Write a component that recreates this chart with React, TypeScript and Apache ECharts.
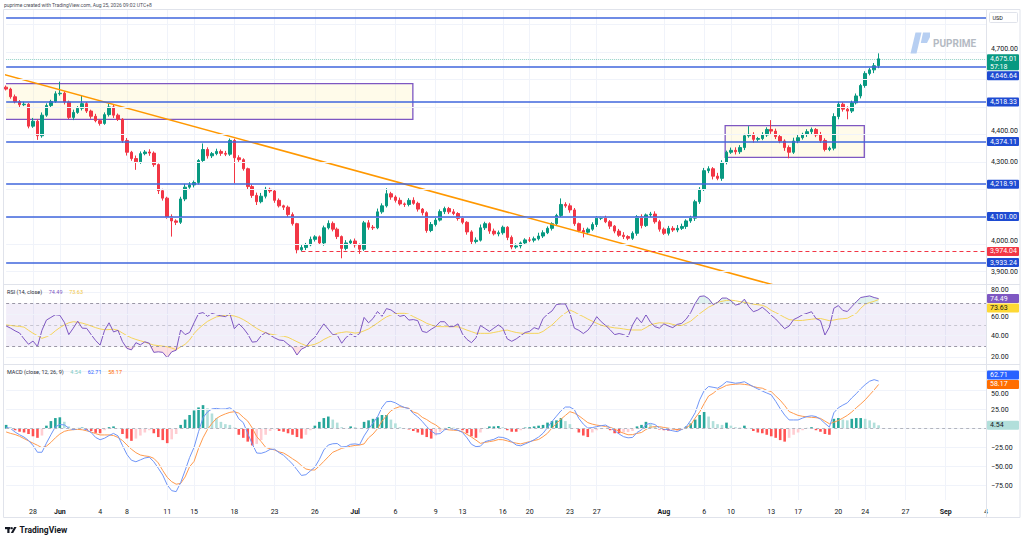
import React, { useEffect, useRef } from 'react';
import * as echarts from 'echarts';

const FONT = 'Roboto, "Noto Sans", sans-serif';

// ---- price data (one candle = one third of a trading day) ----
const firstOpen = 4572;
const closes = [
  4565, 4537, 4519, 4508, 4510, 4430, 4448, 4395, 4470, 4505,
  4520, 4548, 4550, 4518, 4462, 4480, 4495, 4512, 4485, 4466,
  4450, 4440, 4472, 4500, 4470, 4455, 4378, 4335, 4312, 4300,
  4330, 4336, 4332, 4290, 4195, 4168, 4100, 4085, 4080, 4165,
  4208, 4216, 4225, 4305, 4345, 4322, 4330, 4338, 4331, 4328,
  4378, 4315, 4308, 4275, 4210, 4178, 4155, 4175, 4200, 4194,
  4160, 4140, 4135, 4108, 4075, 3980, 3988, 3998, 4018, 4027,
  4005, 4060, 4076, 4055, 4028, 3985, 4005, 4012, 3998, 3982,
  4078, 4062, 4060, 4118, 4140, 4184, 4172, 4160, 4147, 4145,
  4160, 4149, 4128, 4115, 4050, 4072, 4088, 4119, 4130, 4118,
  4112, 4094, 4080, 4045, 4010, 4015, 4060, 4075, 4048, 4038,
  4042, 4062, 4025, 3990, 3994, 4005, 4016, 4015, 4020, 4030,
  4042, 4058, 4075, 4105, 4145, 4140, 4125, 4075, 4050, 4044,
  4055, 4072, 4095, 4095, 4082, 4066, 4048, 4033, 4028, 4022,
  4040, 4100, 4068, 4107, 4110, 4082, 4055, 4040, 4058, 4052,
  4058, 4065, 4085, 4095, 4155, 4200, 4268, 4275, 4248, 4240,
  4298, 4335, 4342, 4337, 4352, 4395, 4400, 4382, 4385, 4398,
  4418, 4412, 4392, 4376, 4352, 4335, 4376, 4388, 4400, 4410,
  4418, 4398, 4378, 4345, 4350, 4465, 4510, 4492, 4485, 4515,
  4540, 4578, 4622, 4635, 4650, 4675.01,
];
const wickUp = [
  6, 5, 8, 6, 9, 4, 12, 7, 10, 8,
  6, 9, 42, 7, 5, 10, 8, 31, 6, 5,
  9, 4, 8, 12, 7, 6, 4, 9, 5, 11,
  8, 7, 10, 6, 4, 7, 5, 9, 6, 8,
  12, 10, 7, 5, 22, 8, 6, 10, 7, 9,
  7, 6, 9, 5, 4, 8, 10, 12, 9, 6,
  5, 7, 4, 6, 8, 3, 9, 7, 10, 6,
  5, 8, 11, 7, 6, 4, 10, 6, 9, 5,
  7, 10, 8, 12, 9, 20, 7, 6, 10, 5,
  8, 11, 6, 4, 5, 9, 12, 8, 7, 6,
  10, 5, 7, 4, 6, 10, 12, 7, 5, 9,
  8, 6, 4, 7, 9, 5, 6, 10, 8, 12,
  9, 7, 5, 6, 22, 8, 9, 7, 4, 10,
  6, 8, 7, 5, 9, 6, 4, 8, 11, 5,
  7, 6, 9, 5, 8, 10, 7, 6, 9, 8,
  12, 10, 6, 9, 7, 8, 10, 9, 6, 12,
  8, 6, 10, 11, 9, 7, 30, 8, 6, 10,
  8, 34, 9, 7, 6, 8, 12, 10, 6, 9,
  7, 5, 11, 8, 6, 12, 9, 7, 10, 8,
  9, 6, 8, 7, 10, 20,
];
const wickDn = [
  5, 7, 6, 9, 5, 8, 6, 15, 7, 6,
  8, 5, 7, 9, 6, 10, 5, 8, 7, 9,
  6, 8, 5, 7, 10, 6, 9, 12, 8, 29,
  7, 6, 10, 8, 12, 9, 7, 57, 10, 6,
  8, 6, 9, 7, 5, 10, 8, 6, 9, 7,
  6, 93, 8, 7, 10, 9, 12, 6, 8, 7,
  9, 6, 10, 8, 7, 13, 6, 9, 5, 8,
  7, 10, 6, 8, 9, 36, 7, 5, 10, 17,
  6, 9, 8, 5, 7, 6, 10, 8, 6, 9,
  7, 5, 9, 10, 8, 6, 7, 5, 9, 8,
  6, 8, 7, 10, 9, 7, 5, 8, 10, 6,
  9, 7, 10, 8, 6, 9, 5, 7, 8, 6,
  7, 5, 8, 6, 9, 7, 10, 8, 6, 19,
  8, 6, 9, 7, 5, 10, 8, 6, 9, 7,
  6, 9, 10, 5, 8, 7, 9, 6, 8, 7,
  8, 6, 9, 7, 10, 8, 6, 9, 12, 7,
  9, 7, 6, 10, 8, 9, 7, 12, 8, 6,
  7, 10, 9, 8, 12, 22, 6, 8, 7, 9,
  10, 8, 9, 7, 6, 8, 10, 9, 30, 7,
  6, 9, 8, 7, 12, 9,
];

// ---- RSI (14, close) and its moving average ----
const rsi = [
  49, 47, 44.5, 42.5, 37, 32, 35, 30, 45, 54.5,
  57, 59.5, 59, 52.5, 41, 47, 53.5, 47, 46.8, 41,
  35.5, 31.3, 45, 52, 43.5, 45, 34.5, 28.2, 26.8, 33.5,
  31.5, 34.3, 33, 24.5, 25, 24.5, 19.5, 25, 26.5, 45.3,
  41, 43, 52, 60.5, 61.5, 58, 60.7, 59.5, 58.5, 57.7,
  60.5, 46.5, 51, 47, 41.5, 34, 34.5, 40, 43, 40.5,
  38, 36, 35.5, 32, 29, 22, 27.5, 29.5, 35, 38.5,
  45, 51, 46, 41, 40.6, 33, 38.5, 41.5, 39, 42,
  57, 52, 56, 62.5, 58, 65.2, 64, 61, 58, 59,
  54.5, 55, 54, 44, 43, 46, 48.5, 53, 53, 48.4,
  48.5, 51, 41.5, 36.5, 33.5, 38, 49.5, 46.8, 44, 47,
  50, 47, 37, 34.8, 37, 40, 43, 44, 47.5, 46,
  56, 60, 63, 69, 69.5, 69.5, 60.8, 47, 45, 42,
  45, 50.5, 57.7, 53, 49.5, 45.5, 41, 42, 41, 39,
  50, 57, 52, 59.5, 52.5, 48.4, 47, 51, 49, 47.5,
  50.5, 51.5, 55.5, 61.5, 70, 76.5, 77, 74.5, 69, 71,
  75, 75, 72.5, 68.5, 69.5, 74, 67, 62.3, 63.8, 66.5,
  63, 59, 55.5, 51, 46.5, 49, 55, 57, 59.5, 60.8,
  62.3, 56, 54, 40.6, 48, 65.5, 68, 63.5, 62.5, 67,
  71.5, 75.5, 76.3, 77, 75.5, 74.49,
];
const rsiMa = [
  50, 49.5, 49, 48.6, 48, 45, 42.3, 40, 37.5, 39,
  41, 44.5, 47.5, 50, 52, 53, 52.5, 51.7, 50.5, 49,
  47.5, 46.3, 45.5, 45.7, 46, 45, 42.5, 40, 38, 36.5,
  35.3, 34, 32.5, 31.3, 30.8, 30.3, 29.7, 28.5, 27, 29.5,
  32, 36, 42, 46.5, 50, 53.3, 55.5, 57.5, 58.3, 59,
  59, 58.3, 57, 55, 52.5, 49.5, 46.8, 44.5, 42.7, 41.5,
  40.8, 40, 39.6, 38.5, 36.5, 34.4, 32.5, 30.8, 31, 32,
  33.8, 36.5, 38.5, 40.5, 42.3, 43, 43.6, 43.2, 42.4, 43,
  44.5, 46.3, 49, 51.8, 54.8, 57.5, 59.2, 60.5, 60.8, 60.8,
  60, 57.8, 55.8, 53.8, 51.5, 50, 48.7, 48.4, 48.4, 48.4,
  48.4, 48.2, 46.8, 45.2, 43.8, 42.3, 42.2, 42.2, 42.2, 43,
  43.8, 44.8, 45.2, 44, 43, 42.4, 42.2, 42.2, 42.2, 42.2,
  44, 47, 50, 54, 58, 61, 63.9, 62, 59.7, 57.8,
  55.5, 53.5, 51.5, 49.8, 48.6, 48, 47.3, 46.9, 46.3, 45.6,
  45.3, 45.3, 45.3, 47.5, 50, 51.2, 52, 51.8, 51.6, 50.5,
  49.5, 49.5, 51.5, 53.5, 57, 60.5, 63.5, 66.5, 68.5, 71,
  72, 72.8, 73.1, 72.5, 71.7, 71, 70.3, 69.3, 68.8, 68.3,
  66.5, 63.5, 61.5, 59.3, 57, 55, 54.4, 54.1, 54.2, 54.8,
  55.3, 55.8, 56, 55, 54, 54.6, 55.4, 55.8, 56.2, 58.5,
  60.6, 65.5, 69.3, 70.8, 72, 73.63,
];

// ---- MACD (close, 12, 26, 9) ----
const macd = [
  1.8, 0.3, -4.5, -8, -11, -15.5, -22, -31, -31, -19,
  -8, 2.5, 5.5, 5, 0.8, -1.2, 0.3, 0.5, -1.5, -5,
  -11.5, -14.5, -12.5, -9, -6.2, -9.5, -22, -34, -41.5, -43.5,
  -41, -38.5, -37.5, -43.5, -52, -61, -74, -81.5, -82.8, -71,
  -55, -38, -24.5, -4, 14.5, 22, 26, 26.7, 25.8, 26,
  27.5, 23.5, 13, 8, -6.5, -20, -32, -32.4, -30.5, -27.2,
  -27, -31.5, -35, -40.5, -46.5, -54, -61.5, -60.5, -55.5, -50.5,
  -40.5, -28, -21.5, -19.8, -19.5, -24, -23.5, -20.5, -20, -21,
  -9.5, -0.5, 7.5, 15.5, 28, 35.5, 36, 34, 30.5, 28,
  26.5, 20, 15.5, 9.5, 2.7, -3, -7, -6.5, -1.5, 0.3,
  -0.5, -2, -5, -12, -20.5, -23.6, -23, -17, -15.5, -14,
  -11, -11.5, -13.5, -17, -21.5, -22.5, -20, -17.5, -14.5, -11,
  -6, 1.5, 9.5, 16.5, 23.5, 28.5, 28.5, 25, 13.5, 6,
  0.8, 1.5, 2.7, 4, 4.8, 1, -2.5, -7, -10.5, -12,
  -11.5, -5, -1.5, 5.5, 7, 5.5, 1, -0.5, -1.5, -2.8,
  -3.9, -1, 2.5, 11, 21, 38, 50, 55.5, 54.5, 53.3,
  57, 61.9, 61, 59.8, 60.5, 61.8, 58.5, 55.3, 52.3, 49.5,
  47, 44.5, 36, 26.5, 18, 11.5, 11.5, 11.5, 14, 16,
  17, 16, 12.5, 7, 2, 21, 27.5, 31, 34, 40.5,
  46, 52.5, 58, 62.5, 64.5, 62.71,
];
const signal = [
  -4.3, -6.2, -7.7, -10, -13, -16, -19, -21.8, -25, -23,
  -18, -12, -7, -3.5, -2, -1.3, -0.9, -1.4, -2.8, -4.4,
  -6.5, -8.2, -8.2, -8.2, -9, -11.5, -15.5, -21.5, -27, -31.5,
  -34.6, -35.8, -36.6, -39, -45, -55, -64, -69.7, -73, -72,
  -63.5, -50, -43, -26, -12, -1, 7, 13.5, 17, 19.5,
  21.5, 22.3, 20.5, 15, 10, 1, -10.4, -17, -24.5, -26.5,
  -28, -30.5, -32, -35.5, -39.5, -43.3, -48.5, -53, -54.3, -54.3,
  -49, -43, -37, -31, -28.5, -25.8, -24.5, -23, -22, -21.5,
  -20, -12, -7, 0, 10, 17, 23.5, 27, 29, 28,
  26.8, 22, 20, 15, 12, 8, 5, 0.5, -0.6, -1.6,
  -2, -2.4, -4, -7.5, -11, -15, -19.3, -18, -17, -16,
  -14.3, -14.5, -16, -17.8, -19, -20, -18.5, -17, -15.5, -14.2,
  -10.5, -6, 1, 7, 12.5, 17.5, 22.4, 20.5, 17, 12.5,
  8, 6, 4.7, 3.9, 2.8, 1.8, -0.5, -3.5, -6, -8,
  -7.8, -6.2, -5, -1, 2, 2.7, 2.7, 1.6, 0.7, -0.3,
  -1.6, -0.8, 1.5, 5, 14, 22, 33, 43, 46.5, 51.5,
  54, 57, 58, 58.5, 58.9, 58.3, 57.5, 55.5, 54, 53.3,
  50.5, 48.8, 43, 37.5, 30.5, 22.6, 20, 17.5, 16.3, 15.5,
  15, 14.5, 13.6, 10, 6.5, 8.5, 10.8, 14, 17.5, 22,
  27.5, 32.5, 38, 44.5, 51, 58.17,
];
const hist = [
  5, 2, -2, -4, -5, -7, -10, -12, -9, 4,
  10, 14, 15, 9, 3, -0.5, 1, 1.5, -1.5, -3,
  -5.5, -6, -2, 2, 3, 0.5, -7, -13, -16, -13,
  -9, -5, -2, -6, -11, -15, -19, -14, -7, 5,
  12, 18, 24, 28, 31, 27, 20, 14, 9, 6,
  5, 1.5, -8, -12, -17, -22, -20, -15, -8, -3,
  -1, -3, -4, -6, -8, -11, -13, -8, -2, 4,
  9, 14, 16, 12, 8, 2, 1, 3, 2, 0,
  9, 11, 13, 15, 18, 18, 12, 7, 2, 0.5,
  -1, -3, -5, -8, -11, -13, -9, -4, 1, 2,
  1.5, 0.5, -2, -6, -10, -12, -5, 1, 3, 3,
  3.5, 2, -2, -4, -4, -2, 1.5, 2, 3, 4,
  5, 8, 10, 11, 14, 10, 6, 1, -5, -9,
  -11, -5, -2, -0.5, 0.5, -2, -6, -6, -5, -4.5,
  -3, 3, 5, 9, 6, 3, -1, -2, -2.5, -2,
  -2, -1, 3, 7, 12, 18, 22, 16, 10, 6,
  5, 8, 4, 2, 1.5, 4, 1, -3, -5, -6,
  -8, -10, -12, -15, -17, -12, -8, -5, -2, 1,
  2, -2, -4, -7, -8, 13, 14, 12, 11, 13,
  14, 14, 13, 11, 8, 4.54,
];

// ---- drawings ----
const hLines = [4825, 4646.64, 4518.33, 4374.11, 4218.91, 4101, 3933.24];
const tagLines = [4646.64, 4518.33, 4374.11, 4218.91, 4101, 3933.24];
const rayStart = 66;
const rayPrice = 3974.04;
const lastPrice = 4675.01;
const countdown = '57:18';
const boxes = [
  [-3, 90.9, 4455.0, 4584.6],
  [160.7, 191.8, 4316.7, 4431.7],
];
const trend = [
  [-1, 4620.4],
  [172, 3849.7],
];

// ---- axes ----
const TOTAL_BARS = 220;
const priceTicks = [3900, 4000, 4100, 4200, 4300, 4400, 4500, 4600, 4700];
const priceGrid = [3900, 4000, 4100, 4200, 4300, 4400, 4500, 4600, 4700, 4800];
const rsiTicks = [20, 40, 60, 80];
const macdTicks = [-75, -50, -25, 0, 25, 50, 75];
const dayLabels: Array<[number, string]> = [
  [6, '28'], [12, 'Jun'], [21, '4'], [27, '8'], [36, '11'], [42, '15'], [51, '18'],
  [60, '23'], [69, '26'], [78, 'Jul'], [87, '6'], [96, '9'], [102, '13'], [111, '16'],
  [117, '20'], [126, '23'], [132, '27'], [147, 'Aug'], [156, '6'], [162, '10'],
  [171, '13'], [177, '17'], [186, '20'], [192, '24'], [201, '27'], [210, 'Sep'], [219, '4'],
];
const monthNames = ['Jun', 'Jul', 'Aug', 'Sep'];

const labelMap = new Map<number, string>(dayLabels);
const cats = Array.from({ length: TOTAL_BARS }, (_, i) => String(i));

const fmt2 = (v: number) =>
  Number(v).toLocaleString('en-US', { minimumFractionDigits: 2, maximumFractionDigits: 2 }).replace('-', '\u2212');

const UP = '#089981';
const DOWN = '#F23645';
const LINE_BLUE = '#3F66DC';
const TAG_BLUE = '#1E4BD2';
const GRID = '#f0f3fa';
const LABEL_STYLE = { color: '#131722', fontSize: 7, fontFamily: FONT };

function buildOption(): any {
  const candles = closes.map((c, i) => {
    const o = i === 0 ? firstOpen : closes[i - 1];
    return [o, c, Math.min(o, c) - wickDn[i], Math.max(o, c) + wickUp[i]];
  });
  const histData = hist.map((h, i) => {
    const prev = i === 0 ? h : hist[i - 1];
    const color = h >= 0 ? (h >= prev ? '#26A69A' : '#B2DFDB') : h <= prev ? '#FF5252' : '#FFCDD2';
    return { value: h, itemStyle: { color } };
  });
  const obBase = rsi.map(() => 70);
  const obFill = rsi.map((v) => Math.max(v, 70) - 70);
  const osBase = rsi.map((v) => Math.min(v, 30));
  const osFill = rsi.map((v) => 30 - Math.min(v, 30));

  const catAxis = (gridIndex: number, showLabels: boolean) => ({
    type: 'category',
    gridIndex,
    data: cats,
    boundaryGap: false,
    axisLine: { show: false },
    axisTick: { show: false },
    axisLabel: showLabels
      ? {
          show: true,
          interval: 0,
          ...LABEL_STYLE,
          margin: 8,
          formatter: (_v: string, idx: number) => {
            const l = labelMap.get(idx);
            if (!l) return '';
            return monthNames.includes(l) ? `{m|${l}}` : l;
          },
          rich: { m: { ...LABEL_STYLE, fontWeight: 'bold' } },
        }
      : { show: false },
    splitLine: {
      show: true,
      interval: (idx: number) => labelMap.has(idx),
      lineStyle: { color: GRID, width: 1 },
    },
  });

  const valAxis = (gridIndex: number, min: number, max: number, ticks: number[]) => ({
    type: 'value',
    gridIndex,
    position: 'right',
    min,
    max,
    axisLine: { show: false },
    axisTick: { show: false },
    splitLine: { show: false },
    axisLabel: {
      customValues: ticks,
      ...LABEL_STYLE,
      margin: 5,
      formatter: (v: number) => fmt2(v),
    },
  });

  const gridLineSeries = (xi: number, yi: number, values: number[]) => ({
    type: 'line',
    xAxisIndex: xi,
    yAxisIndex: yi,
    data: [],
    z: 0,
    silent: true,
    markLine: {
      silent: true,
      symbol: ['none', 'none'],
      label: { show: false },
      animation: false,
      lineStyle: { color: GRID, width: 1, type: 'solid' },
      data: values.map((v) => ({ yAxis: v })),
    },
  });

  const gridBase = { left: 6.15, right: 38, containLabel: false, outerBoundsMode: 'none' };

  return {
    animation: false,
    backgroundColor: '#ffffff',
    textStyle: { fontFamily: FONT },
    grid: [
      { ...gridBase, top: 10, height: 274 },
      { ...gridBase, top: 285, height: 79 },
      { ...gridBase, top: 365, height: 135 },
    ],
    xAxis: [
      catAxis(0, false),
      catAxis(1, false),
      catAxis(2, true),
      { type: 'value', gridIndex: 0, min: 0, max: TOTAL_BARS - 1, show: false },
    ],
    yAxis: [
      valAxis(0, 3855.4, 4852.9, priceTicks),
      valAxis(1, 13.67, 87.16, rsiTicks),
      valAxis(2, -93.8, 83.8, macdTicks),
    ],
    series: [
      gridLineSeries(0, 0, priceGrid),
      {
        type: 'custom',
        xAxisIndex: 3,
        yAxisIndex: 0,
        clip: true,
        z: 1,
        silent: true,
        data: boxes,
        renderItem: (_p: any, api: any) => {
          const a = api.coord([api.value(0), api.value(3)]);
          const b = api.coord([api.value(1), api.value(2)]);
          return {
            type: 'rect',
            shape: { x: a[0], y: a[1], width: b[0] - a[0], height: b[1] - a[1] },
            style: { fill: 'rgba(255, 236, 160, 0.22)', stroke: '#7E57C2', lineWidth: 1.3 },
          };
        },
      },
      {
        type: 'candlestick',
        xAxisIndex: 0,
        yAxisIndex: 0,
        z: 2,
        clip: false,
        barWidth: 3,
        data: candles,
        itemStyle: { color: UP, color0: DOWN, borderColor: UP, borderColor0: DOWN, borderWidth: 1 },
        markLine: {
          silent: true,
          symbol: ['none', 'none'],
          label: { show: false },
          animation: false,
          data: [
            ...hLines.map((v) => ({ yAxis: v, lineStyle: { color: LINE_BLUE, width: 1.5, type: 'solid' } })),
            { yAxis: lastPrice, lineStyle: { color: UP, width: 1, type: 'dotted', opacity: 0.45 } },
            [
              { coord: [String(rayStart), rayPrice], lineStyle: { color: DOWN, width: 1, type: [4, 3] } },
              { coord: [String(TOTAL_BARS - 1), rayPrice] },
            ],
          ],
        },
      },
      {
        type: 'line',
        xAxisIndex: 3,
        yAxisIndex: 0,
        z: 3,
        silent: true,
        symbol: 'none',
        data: trend,
        lineStyle: { color: '#FF9800', width: 1.5 },
      },
      // RSI pane
      {
        ...gridLineSeries(1, 1, rsiTicks),
        markArea: {
          silent: true,
          itemStyle: { color: 'rgba(126, 87, 194, 0.1)' },
          data: [[{ yAxis: 70 }, { yAxis: 30 }]],
        },
      },
      {
        type: 'line',
        xAxisIndex: 1,
        yAxisIndex: 1,
        data: [],
        z: 1,
        silent: true,
        markLine: {
          silent: true,
          symbol: ['none', 'none'],
          label: { show: false },
          animation: false,
          data: [
            { yAxis: 70, lineStyle: { color: '#9a97a6', width: 1, type: [3, 3] } },
            { yAxis: 50, lineStyle: { color: 'rgba(120,123,134,0.35)', width: 1, type: [3, 3] } },
            { yAxis: 30, lineStyle: { color: '#9a97a6', width: 1, type: [3, 3] } },
          ],
        },
      },
      {
        type: 'line', xAxisIndex: 1, yAxisIndex: 1, stack: 'ob', symbol: 'none', silent: true, z: 2,
        data: obBase, lineStyle: { opacity: 0 },
      },
      {
        type: 'line', xAxisIndex: 1, yAxisIndex: 1, stack: 'ob', symbol: 'none', silent: true, z: 2,
        data: obFill, lineStyle: { opacity: 0 }, areaStyle: { color: 'rgba(8, 153, 129, 0.18)' },
      },
      {
        type: 'line', xAxisIndex: 1, yAxisIndex: 1, stack: 'os', symbol: 'none', silent: true, z: 2,
        data: osBase, lineStyle: { opacity: 0 },
      },
      {
        type: 'line', xAxisIndex: 1, yAxisIndex: 1, stack: 'os', symbol: 'none', silent: true, z: 2,
        data: osFill, lineStyle: { opacity: 0 }, areaStyle: { color: 'rgba(242, 54, 69, 0.22)' },
      },
      {
        type: 'line', xAxisIndex: 1, yAxisIndex: 1, symbol: 'none', silent: true, z: 3,
        data: rsiMa, lineStyle: { color: '#F5D45A', width: 1 },
      },
      {
        type: 'line', xAxisIndex: 1, yAxisIndex: 1, symbol: 'none', silent: true, z: 4,
        data: rsi, lineStyle: { color: '#7E57C2', width: 1 },
      },
      // MACD pane
      gridLineSeries(2, 2, macdTicks),
      {
        type: 'line',
        xAxisIndex: 2,
        yAxisIndex: 2,
        data: [],
        z: 1,
        silent: true,
        markLine: {
          silent: true,
          symbol: ['none', 'none'],
          label: { show: false },
          animation: false,
          data: [{ yAxis: 0, lineStyle: { color: '#b2b5be', width: 1, type: [3, 3] } }],
        },
      },
      {
        type: 'bar', xAxisIndex: 2, yAxisIndex: 2, barWidth: 2.6, silent: true, z: 2,
        data: histData,
      },
      {
        type: 'line', xAxisIndex: 2, yAxisIndex: 2, symbol: 'none', silent: true, z: 3,
        data: signal, lineStyle: { color: '#FF9A4D', width: 1 },
      },
      {
        type: 'line', xAxisIndex: 2, yAxisIndex: 2, symbol: 'none', silent: true, z: 4,
        data: macd, lineStyle: { color: '#6F95F7', width: 1 },
      },
    ],
  };
}

function staticGraphics(): any[] {
  const border = '#e0e3eb';
  return [
    { type: 'rect', silent: true, z: 50, shape: { x: 3.5, y: 9.5, width: 1016.5, height: 508 }, style: { fill: 'none', stroke: border, lineWidth: 1 } },
    { type: 'line', silent: true, z: 50, shape: { x1: 3.5, y1: 284.5, x2: 1020, y2: 284.5 }, style: { stroke: border, lineWidth: 1 } },
    { type: 'line', silent: true, z: 50, shape: { x1: 3.5, y1: 364.5, x2: 1020, y2: 364.5 }, style: { stroke: border, lineWidth: 1 } },
    { type: 'line', silent: true, z: 50, shape: { x1: 986.5, y1: 9.5, x2: 986.5, y2: 517.5 }, style: { stroke: border, lineWidth: 1 } },
    {
      type: 'text', silent: true, z: 60,
      style: { text: 'puprime created with TradingView.com, Aug 25, 2026 09:02 UTC+8', x: 4, y: 5, fill: '#4a4d57', fontSize: 5, fontFamily: FONT, verticalAlign: 'middle', align: 'left' },
    },
    // USD box
    { type: 'rect', silent: true, z: 60, shape: { x: 989.5, y: 12.5, width: 28, height: 10, r: 1 }, style: { fill: '#ffffff', stroke: border, lineWidth: 1 } },
    { type: 'text', silent: true, z: 61, style: { text: 'USD', x: 992.5, y: 17.5, fill: '#131722', fontSize: 5.5, fontFamily: FONT, verticalAlign: 'middle', align: 'left' } },
    // PU Prime watermark
    { type: 'polygon', silent: true, z: 5, shape: { points: [[915.5, 32.5], [921.5, 32.5], [916.5, 53.5], [910.5, 53.5]] }, style: { fill: '#b7cff2' } },
    { type: 'polygon', silent: true, z: 5, shape: { points: [[923, 32.5], [930, 32.5], [930, 37], [927, 43], [920.8, 43]] }, style: { fill: '#b7cff2' } },
    { type: 'text', silent: true, z: 5, style: { text: 'PUPRIME', x: 933, y: 43.5, fill: '#b4bac3', fontSize: 10, fontWeight: 'bold', fontFamily: FONT, verticalAlign: 'middle', align: 'left' } },
    // TradingView logo
    { type: 'rect', silent: true, z: 60, shape: { x: 5, y: 527, width: 5.5, height: 2.2 }, style: { fill: '#131722' } },
    { type: 'rect', silent: true, z: 60, shape: { x: 7.3, y: 527, width: 2.2, height: 6 }, style: { fill: '#131722' } },
    { type: 'circle', silent: true, z: 60, shape: { cx: 11.8, cy: 528.2, r: 1.1 }, style: { fill: '#131722' } },
    { type: 'polygon', silent: true, z: 60, shape: { points: [[10.8, 533], [14.2, 527], [16.6, 527], [13.2, 533]] }, style: { fill: '#131722' } },
    { type: 'text', silent: true, z: 60, style: { text: 'TradingView', x: 19.5, y: 530, fill: '#131722', fontSize: 8.5, fontWeight: 'bold', fontFamily: FONT, verticalAlign: 'middle', align: 'left' } },
    // indicator legends
    {
      type: 'text', silent: true, z: 60,
      style: {
        text: '{a|RSI (14, close)}  {b|74.49}  {c|73.63}',
        x: 7, y: 291.5, verticalAlign: 'middle', align: 'left',
        rich: {
          a: { fill: '#2a2e39', fontSize: 5.5, fontFamily: FONT },
          b: { fill: '#7E57C2', fontSize: 5.5, fontFamily: FONT },
          c: { fill: '#F2C744', fontSize: 5.5, fontFamily: FONT },
        },
      },
    },
    {
      type: 'text', silent: true, z: 60,
      style: {
        text: '{a|MACD (close, 12, 26, 9)}  {d|4.54}  {e|62.71}  {f|58.17}',
        x: 7, y: 372, verticalAlign: 'middle', align: 'left',
        rich: {
          a: { fill: '#2a2e39', fontSize: 5.5, fontFamily: FONT },
          d: { fill: '#80CBC4', fontSize: 5.5, fontFamily: FONT },
          e: { fill: '#2962FF', fontSize: 5.5, fontFamily: FONT },
          f: { fill: '#FF6D00', fontSize: 5.5, fontFamily: FONT },
        },
      },
    },
  ];
}

function tagEls(cy: number, lines: string[], bg: string, fg: string): any[] {
  const h = lines.length === 1 ? 9 : 16;
  const top = lines.length === 1 ? cy - h / 2 : cy - 4.5;
  const els: any[] = [
    { type: 'rect', silent: true, z: 100, shape: { x: 987, y: top, width: 32, height: h, r: 1 }, style: { fill: bg } },
  ];
  lines.forEach((t, k) => {
    els.push({
      type: 'text', silent: true, z: 101,
      style: { text: t, x: 990, y: cy + k * 8, fill: fg, fontSize: 7, fontFamily: FONT, verticalAlign: 'middle', align: 'left' },
    });
  });
  return els;
}

export default function App() {
  const ref = useRef<HTMLDivElement>(null);
  useEffect(() => {
    const el = ref.current;
    if (!el) return;
    const chart = echarts.init(el, undefined, { renderer: 'svg' });
    chart.setOption(buildOption());

    const py = (axis: number, v: number) => chart.convertToPixel({ yAxisIndex: axis } as any, v) as number;
    const tags: any[] = [];
    const centers: number[][] = [[], [], []];
    const addTag = (pane: number, cy: number, lines: string[], bg: string, fg: string) => {
      tags.push(...tagEls(cy, lines, bg, fg));
      centers[pane].push(cy);
      if (lines.length > 1) centers[pane].push(cy + 8);
    };

    const lastY = py(0, lastPrice);
    addTag(0, lastY, [fmt2(lastPrice), countdown], UP, '#ffffff');
    let prevBottom = lastY + 11.5;
    tagLines.forEach((v) => {
      let cy = py(0, v);
      if (cy - 4.5 < prevBottom + 1) cy = prevBottom + 1 + 4.5;
      addTag(0, cy, [fmt2(v)], TAG_BLUE, '#ffffff');
      prevBottom = cy + 4.5;
    });
    addTag(0, py(0, rayPrice), [fmt2(rayPrice)], DOWN, '#ffffff');

    const rsiLast = rsi[rsi.length - 1];
    const maLast = rsiMa[rsiMa.length - 1];
    const rsiY = py(1, rsiLast);
    const maY = Math.max(py(1, maLast), rsiY + 9.5);
    addTag(1, rsiY, [fmt2(rsiLast)], '#7E57C2', '#ffffff');
    addTag(1, maY, [fmt2(maLast)], '#FDD835', '#131722');

    const macdLast = macd[macd.length - 1];
    const sigLast = signal[signal.length - 1];
    const histLast = hist[hist.length - 1];
    const sigY = py(2, sigLast);
    const macdY = Math.min(py(2, macdLast), sigY - 9.5);
    addTag(2, macdY, [fmt2(macdLast)], '#2962FF', '#ffffff');
    addTag(2, sigY, [fmt2(sigLast)], '#FF6D00', '#ffffff');
    addTag(2, py(2, histLast), [fmt2(histLast)], '#B2DFDB', '#131722');

    // scale labels hidden behind a price tag are dropped; ones that only touch a tag are nudged clear of it
    const nearest = (pane: number, t: number) => {
      const y = py(pane, t);
      let best = Infinity;
      centers[pane].forEach((c) => {
        if (Math.abs(y - c) < Math.abs(best)) best = y - c;
      });
      return best;
    };
    const axisUpdate = (pane: number, ticks: number[]) => {
      const shown = ticks.filter((t) => Math.abs(nearest(pane, t)) >= 5.5);
      const shift = new Map<number, string>();
      shown.forEach((t) => {
        const d = nearest(pane, t);
        if (Math.abs(d) < 9) shift.set(t, d < 0 ? 'u' : 'd');
      });
      return {
        axisLabel: {
          customValues: shown,
          formatter: (v: number) => {
            const k = shift.get(v);
            return k ? `{${k}|${fmt2(v)}}` : fmt2(v);
          },
          rich: {
            u: { ...LABEL_STYLE, padding: [0, 0, 6, 0] },
            d: { ...LABEL_STYLE, padding: [6, 0, 0, 0] },
          },
        },
      };
    };

    chart.setOption({
      yAxis: [axisUpdate(0, priceTicks), axisUpdate(1, rsiTicks), axisUpdate(2, macdTicks)],
      graphic: [...staticGraphics(), ...tags],
    });
    return () => chart.dispose();
  }, []);

  return (
    <div
      ref={ref}
      style={{ position: 'fixed', left: 0, top: 0, width: 1024, height: 542, background: '#ffffff' }}
    />
  );
}
